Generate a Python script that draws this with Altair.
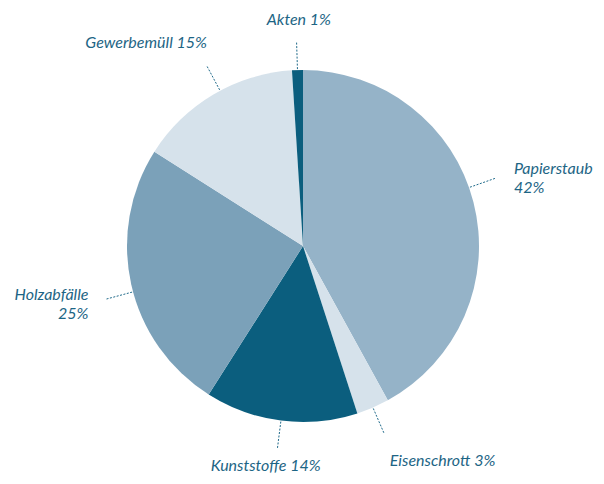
import altair as alt
import numpy as np
import pandas as pd

categories = ["Papierstaub", "Eisenschrott", "Kunststoffe", "Holzabfälle", "Gewerbemüll", "Akten"]
values = [42, 3, 14, 25, 15, 1]
labels = ["Papierstaub\n42%", "Eisenschrott 3%", "Kunststoffe 14%", "Holzabfälle\n25%", "Gewerbemüll 15%", "Akten 1%"]
colors = ["#95b3c8", "#d6e2eb", "#0b5e7e", "#7ba1b9", "#d6e2eb", "#0b5e7e"]

# --- layout (not data) ---
W, H = 588, 468
CX, CY = 1, -4          # pie centre relative to plot centre (px, y up)
R = 176
R_LINE1, R_LINE2, R_LABEL = 177, 205, 226
leader_turn = {"Papierstaub": -5.0, "Gewerbemüll": 2.5, "Holzabfälle": -2.5}   # degrees
label_nudge = {                                                                  # px (dx, dy up)
    "Papierstaub": (-8, 21), "Holzabfälle": (6, 0), "Gewerbemüll": (19, 8),
    "Akten": (3, 0), "Kunststoffe": (-9, 4), "Eisenschrott": (-3, -8),
}

vals = np.array(values, dtype=float)
start = np.cumsum(vals) - vals
mid = (start + vals / 2) / vals.sum() * 2 * np.pi

df = pd.DataFrame({"cat": categories, "value": values, "label": labels,
                   "idx": list(range(len(categories)))})
turn = np.radians([leader_turn.get(c, 0.0) for c in categories])
s_line, c_line = np.sin(mid + turn), np.cos(mid + turn)
s, c = np.sin(mid), np.cos(mid)
df["cx"] = CX
df["cy"] = CY
df["x1"] = CX + R_LINE1 * s_line
df["y1"] = CY + R_LINE1 * c_line
df["x2"] = CX + R_LINE2 * s_line
df["y2"] = CY + R_LINE2 * c_line
df["lx"] = CX + R_LABEL * s + np.array([label_nudge.get(k, (0, 0))[0] for k in categories])
df["ly"] = CY + R_LABEL * c + np.array([label_nudge.get(k, (0, 0))[1] for k in categories])
df["align"] = np.where(s > 0.3, "left", np.where(s < -0.3, "right", "center"))

xs = alt.Scale(domain=[-W / 2, W / 2], nice=False, zero=False)
ys = alt.Scale(domain=[-H / 2, H / 2], nice=False, zero=False)

base = alt.Chart(df)

pie = base.mark_arc(radius=R).encode(
    theta=alt.Theta("value:Q", stack=True),
    order=alt.Order("idx:Q"),
    color=alt.Color("cat:N", scale=alt.Scale(domain=categories, range=colors), legend=None),
    x=alt.X("cx:Q", scale=xs, axis=None),
    y=alt.Y("cy:Q", scale=ys, axis=None),
)

lines = base.mark_rule(color="#1f6a8a", strokeWidth=1, strokeDash=[2, 1.5]).encode(
    x=alt.X("x1:Q", scale=xs, axis=None),
    y=alt.Y("y1:Q", scale=ys, axis=None),
    x2="x2:Q",
    y2="y2:Q",
)

text_layers = []
for a in ["left", "right", "center"]:
    text_layers.append(
        base.transform_filter(alt.datum.align == a).mark_text(
            align=a, baseline="middle", font="Lato", fontStyle="italic",
            fontSize=16, color="#1d6585", lineBreak="\n", lineHeight=19,
        ).encode(
            x=alt.X("lx:Q", scale=xs, axis=None),
            y=alt.Y("ly:Q", scale=ys, axis=None),
            text="label:N",
        )
    )

chart = alt.layer(pie, lines, *text_layers).properties(
    width=W, height=H, padding=0, autosize="none", background="white"
).configure_view(stroke=None)

chart.save("out.html", embed_options={"renderer": "svg", "actions": False})
